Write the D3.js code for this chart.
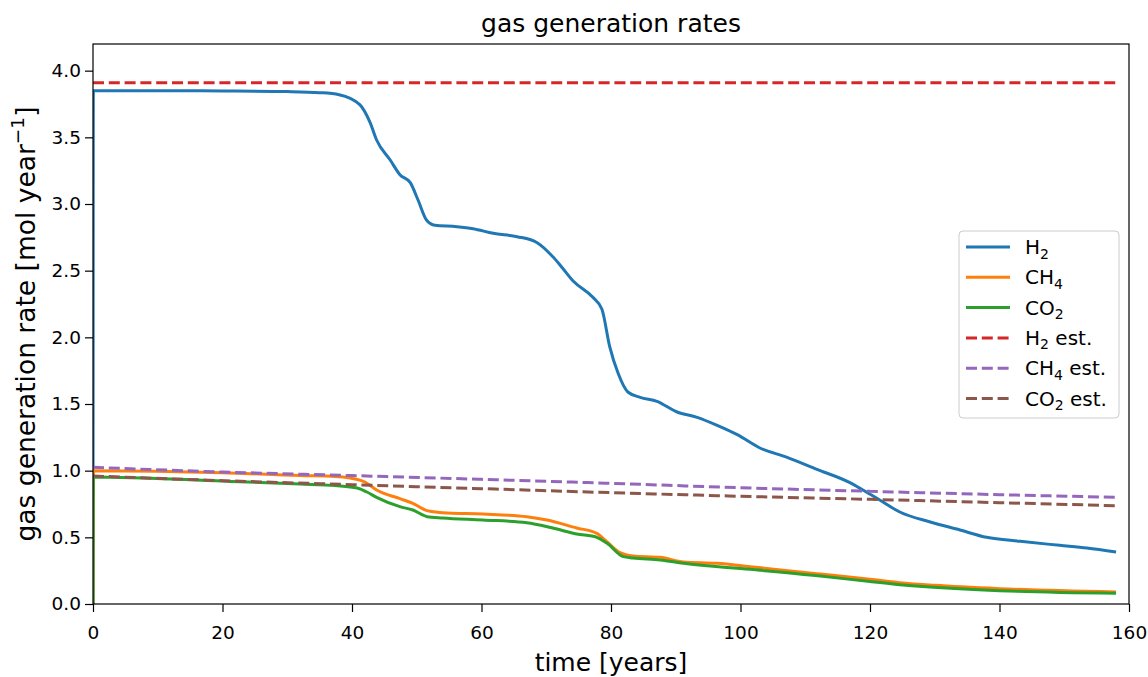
<!DOCTYPE html>
<html>
<head>
<meta charset="utf-8">
<script src="https://cdn.jsdelivr.net/npm/d3@7"></script>
<style>
  body { margin: 0; background: #fff; }
  svg { font-family: "DejaVu Sans", sans-serif; }
</style>
</head>
<body>
<div id="chart"></div>
<script>
// data
var h2Time = [0, 0.05, 10, 20, 30, 35, 38, 41.2, 42.8, 43.8, 45.9, 47.4, 49, 50.2, 51.5, 52.8, 56.2, 58.7, 61.8, 65.5, 68.6, 71.1, 72.5, 74.2, 77.2, 78.6, 79.8, 81.1, 82.6, 84.5, 87.1, 90.2, 93.3, 96.4, 99.5, 103, 107.2, 111.8, 116.9, 118.9, 121.5, 124.6, 129.3, 133.9, 138, 143.2, 149.3, 153.5, 158]
var h2Rate = [0, 3.85, 3.85, 3.848, 3.843, 3.835, 3.82, 3.745, 3.61, 3.48, 3.33, 3.22, 3.16, 3.03, 2.88, 2.84, 2.83, 2.815, 2.78, 2.755, 2.71, 2.60, 2.52, 2.42, 2.30, 2.21, 1.93, 1.73, 1.59, 1.55, 1.52, 1.44, 1.40, 1.34, 1.27, 1.17, 1.10, 1.01, 0.91, 0.855, 0.78, 0.69, 0.615, 0.555, 0.50, 0.47, 0.44, 0.42, 0.39]

var ch4Time = [0, 0.05, 20, 32, 37.4, 39.7, 42, 43.8, 47.4, 49.4, 51.6, 54, 60.2, 67, 70.1, 74.7, 77.8, 79.4, 81.4, 83.4, 87.6, 91.2, 96.4, 101.5, 112.3, 120, 124.6, 130, 140, 158]
var ch4Rate = [0, 1.00, 0.985, 0.963, 0.957, 0.945, 0.915, 0.855, 0.79, 0.755, 0.70, 0.685, 0.675, 0.655, 0.63, 0.57, 0.53, 0.465, 0.385, 0.36, 0.35, 0.315, 0.305, 0.28, 0.225, 0.185, 0.16, 0.14, 0.115, 0.09]

var co2Time = [0, 0.05, 20, 32, 37.4, 40.8, 42.3, 43.8, 47.4, 49.4, 51.6, 54, 60.2, 67, 71, 74.7, 77.8, 79.4, 81.9, 83.4, 87.6, 91.2, 101.5, 112.3, 120, 124.6, 140, 158]
var co2Rate = [0, 0.953, 0.922, 0.90, 0.888, 0.87, 0.84, 0.80, 0.73, 0.705, 0.655, 0.645, 0.63, 0.61, 0.57, 0.525, 0.50, 0.455, 0.355, 0.345, 0.33, 0.305, 0.26, 0.21, 0.168, 0.145, 0.10, 0.08]

var estTime = [0, 20, 40, 60, 80, 100, 120, 140, 158]
var h2Est = [3.91, 3.91, 3.91, 3.91, 3.91, 3.91, 3.91, 3.91, 3.91]
var ch4Est = [1.025, 0.99, 0.963, 0.935, 0.905, 0.872, 0.845, 0.82, 0.80]
var co2Est = [0.96, 0.925, 0.895, 0.865, 0.835, 0.808, 0.785, 0.76, 0.737]

var xTicks = [0, 20, 40, 60, 80, 100, 120, 140, 160]
var yTicks = [0, 0.5, 1.0, 1.5, 2.0, 2.5, 3.0, 3.5, 4.0]

var series = [
  { gas: "H", sub: "2", suffix: "", t: h2Time, v: h2Rate, color: "#1f77b4", dash: null },
  { gas: "CH", sub: "4", suffix: "", t: ch4Time, v: ch4Rate, color: "#ff7f0e", dash: null },
  { gas: "CO", sub: "2", suffix: "", t: co2Time, v: co2Rate, color: "#2ca02c", dash: null },
  { gas: "H", sub: "2", suffix: " est.", t: estTime, v: h2Est, color: "#d62728", dash: "11,4.8" },
  { gas: "CH", sub: "4", suffix: " est.", t: estTime, v: ch4Est, color: "#9467bd", dash: "11,4.8" },
  { gas: "CO", sub: "2", suffix: " est.", t: estTime, v: co2Est, color: "#8c564b", dash: "11,4.8" }
]

const MARGIN = { LEFT: 93, RIGHT: 19, TOP: 44, BOTTOM: 73 }
const WIDTH = 1148 - MARGIN.LEFT - MARGIN.RIGHT
const HEIGHT = 677 - MARGIN.TOP - MARGIN.BOTTOM

var svg = d3.select("#chart").append("svg")
    .attr("width", 1148)
    .attr("height", 677)
var g = svg.append("g")
    .attr("transform", `translate(${MARGIN.LEFT}, ${MARGIN.TOP})`)

// Scales
var x = d3.scaleLinear().domain([0, 160]).range([0, WIDTH])
var y = d3.scaleLinear().domain([0, 4.2]).range([HEIGHT, 0])

// clip so nothing spills past the frame
g.append("clipPath").attr("id", "clip")
  .append("rect").attr("width", WIDTH).attr("height", HEIGHT)

var line = d3.line()
  .x(d => x(d[0]))
  .y(d => y(d[1]))
  .curve(d3.curveMonotoneX)

var lines = g.append("g").attr("clip-path", "url(#clip)")
series.forEach(s => {
  var pts = s.t.map((t, i) => [t, s.v[i]])
  lines.append("path")
    .attr("d", line(pts))
    .attr("fill", "none")
    .attr("stroke", s.color)
    .attr("stroke-width", 3)
    .attr("stroke-dasharray", s.dash)
})

// Axes
g.append("g")
  .attr("transform", `translate(0, ${HEIGHT})`)
  .call(d3.axisBottom(x).tickValues(xTicks).tickFormat(d3.format("d")).tickSizeOuter(0).tickSize(8).tickPadding(14))
g.append("g")
  .call(d3.axisLeft(y).tickValues(yTicks).tickFormat(d3.format(".1f")).tickSizeOuter(0).tickSize(8).tickPadding(4))
svg.selectAll(".tick text").attr("font-size", "18.5px").attr("font-family", "DejaVu Sans").attr("fill", "#000")
svg.selectAll(".tick line").attr("stroke", "#000").attr("stroke-width", 1.2)
svg.selectAll(".domain").remove()

// frame
g.append("rect")
  .attr("width", WIDTH).attr("height", HEIGHT)
  .attr("fill", "none").attr("stroke", "#000").attr("stroke-width", 1.2)

// Labels
svg.append("text")
  .attr("x", MARGIN.LEFT + WIDTH / 2).attr("y", 32)
  .attr("text-anchor", "middle").attr("font-size", "25px")
  .text("gas generation rates")
svg.append("text")
  .attr("x", MARGIN.LEFT + WIDTH / 2).attr("y", 671)
  .attr("text-anchor", "middle").attr("font-size", "25px")
  .text("time [years]")
var yl = svg.append("text")
  .attr("transform", `translate(35, ${MARGIN.TOP + HEIGHT / 2}) rotate(-90)`)
  .attr("text-anchor", "middle").attr("font-size", "26.5px")
yl.append("tspan").text("gas generation rate [mol year")
yl.append("tspan").attr("dy", -11).attr("font-size", "18.5px").text("\u22121")
yl.append("tspan").attr("dy", 11).text("]")

// Legend
var legend = svg.append("g").attr("transform", "translate(959, 231)")
legend.append("rect")
  .attr("width", 160).attr("height", 187).attr("rx", 4)
  .attr("fill", "#fff").attr("fill-opacity", 0.8)
  .attr("stroke", "#ccc").attr("stroke-width", 1)
series.forEach((s, i) => {
  var yy = 16 + i * 30.3
  legend.append("line")
    .attr("x1", 7).attr("x2", 51).attr("y1", yy).attr("y2", yy)
    .attr("stroke", s.color).attr("stroke-width", 3)
    .attr("stroke-dasharray", s.dash)
  var t = legend.append("text")
    .attr("x", 66).attr("y", yy + 7).attr("font-size", "20px")
  t.append("tspan").text(s.gas)
  t.append("tspan").attr("dy", 4.5).attr("font-size", "14px").text(s.sub)
  t.append("tspan").attr("dy", -4.5).text(s.suffix)
})
</script>
</body>
</html>
